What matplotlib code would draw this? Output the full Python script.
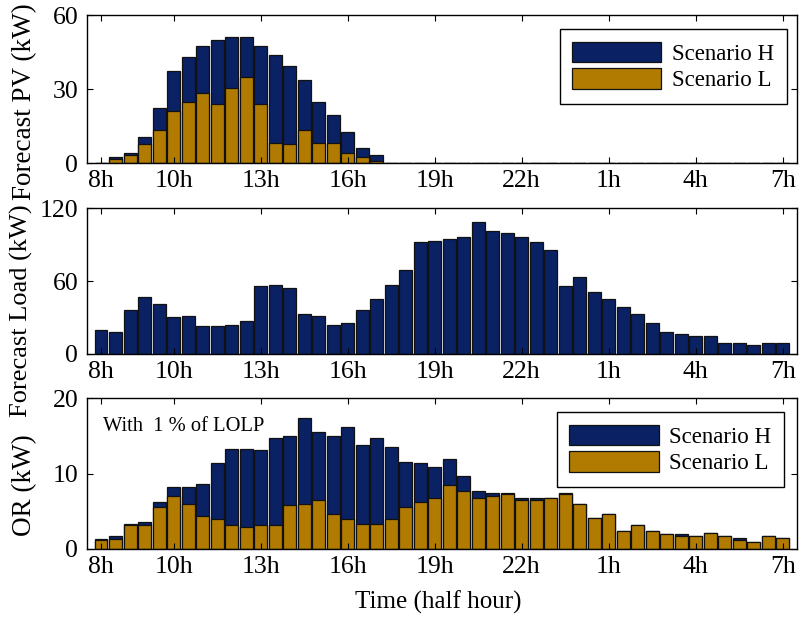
import numpy as np
import matplotlib
matplotlib.use('Agg')
import matplotlib.pyplot as plt

plt.rcParams['font.family'] = ['Liberation Serif', 'DejaVu Serif']
plt.rcParams['font.size'] = 18

# half-hour slots 1..48
slots = np.arange(1, 49)
tick_pos = [1, 6, 12, 18, 24, 30, 36, 42, 48]
tick_labels = ['8h', '10h', '13h', '16h', '19h', '22h', '1h', '4h', '7h']

# forecast PV (kW), scenario H and L
pv_h = [0, 2.6, 4.0, 10.7, 22.4, 37.3, 43.0, 47.5, 49.8, 51.2, 51.2, 47.5, 43.8, 39.2,
        33.6, 24.7, 19.4, 12.7, 6.2, 3.4] + [0] * 28
pv_l = [0, 1.6, 3.2, 7.7, 13.5, 20.9, 24.7, 28.2, 23.9, 30.5, 34.8, 23.9, 8.2, 7.7,
        13.5, 8.2, 8.2, 3.9, 2.4, 0.9] + [0] * 28

# forecast load (kW)
load = [19.5, 18.1, 36.2, 46.7, 40.9, 30.2, 31.6, 22.8, 22.8, 24.2, 27.2, 55.7, 57.1, 54.1,
        33.2, 31.6, 24.2, 25.5, 36.2, 45.3, 57.1, 69.2, 91.7, 93.1, 94.5, 96.1, 108.2, 100.8,
        99.4, 96.1, 91.7, 85.4, 55.7, 63.2, 51.1, 45.3, 39.0, 33.2, 25.8, 18.1, 16.7, 15.1,
        15.1, 9.1, 9.1, 7.4, 9.1, 9.1]

# operating reserve (kW), scenario H and L
or_h = [1.37, 1.73, 3.36, 3.63, 6.28, 8.19, 8.19, 8.67, 11.37, 13.27, 13.27, 13.05, 14.73,
        14.96, 17.35, 15.49, 14.96, 16.15, 13.76, 14.73, 13.54, 11.59, 11.37, 10.88, 11.86,
        9.65, 7.74, 7.48, 7.48, 6.77, 6.77, 6.77, 7.48, 6.02, 4.12, 4.60, 2.43, 3.14, 2.43,
        1.95, 1.95, 1.73, 2.17, 1.73, 1.42, 0.97, 1.73, 1.42]
or_l = [1.15, 1.37, 3.14, 3.14, 5.53, 6.99, 6.02, 4.34, 4.03, 3.14, 2.88, 3.14, 3.14,
        5.80, 6.02, 6.50, 4.60, 4.03, 3.36, 3.36, 4.03, 5.53, 6.28, 6.77, 8.45,
        7.74, 6.77, 6.99, 7.26, 6.50, 6.50, 6.77, 7.26, 6.02, 4.12, 4.60, 2.43, 3.14, 2.43,
        1.95, 1.73, 1.73, 2.17, 1.73, 1.15, 0.97, 1.73, 1.42]

blue = '#0a2264'
gold = '#b07b00'
w = 0.88

fig = plt.figure(figsize=(8.02, 6.21), dpi=100)
ax1 = fig.add_axes([0.108, 0.7375, 0.886, 0.2383])
ax2 = fig.add_axes([0.108, 0.430, 0.886, 0.235])
ax3 = fig.add_axes([0.108, 0.116, 0.886, 0.243])

ax1.bar(slots, pv_h, w, color=blue, edgecolor='#111111', linewidth=0.9, label='Scenario H')
ax1.bar(slots, pv_l, w, color=gold, edgecolor='#111111', linewidth=0.9, label='Scenario L')
ax1.set_ylim(0, 60)
ax1.set_yticks([0, 30, 60])
ax1.set_ylabel('Forecast PV (kW)', fontsize=19.5)
ax1.yaxis.set_label_coords(-0.0696, 0.412)

ax2.bar(slots, load, w, color=blue, edgecolor='#111111', linewidth=0.9)
ax2.set_ylim(0, 120)
ax2.set_yticks([0, 60, 120])
ax2.set_ylabel('Forecast Load (kW)', fontsize=19)
ax2.yaxis.set_label_coords(-0.0752, 0.295)

ax3.bar(slots, or_h, w, color=blue, edgecolor='#111111', linewidth=0.9, label='Scenario H')
ax3.bar(slots, or_l, w, color=gold, edgecolor='#111111', linewidth=0.9, label='Scenario L')
ax3.set_ylim(0, 20)
ax3.set_yticks([0, 10, 20])
ax3.set_ylabel('OR (kW)', fontsize=19.5)
ax3.yaxis.set_label_coords(-0.0696, 0.424)
ax3.set_xlabel('Time (half hour)', fontsize=18, va='top')
ax3.xaxis.set_label_coords(0.495, -0.275)
ax3.text(0.023, 0.81, 'With  1 % of LOLP', transform=ax3.transAxes, fontsize=14.8, va='center')

for ax in (ax1, ax2, ax3):
    ax.set_xlim(0, 49)
    ax.set_xticks(tick_pos)
    ax.set_xticklabels(tick_labels)
    ax.tick_params(direction='in', top=True, right=True, length=4, labelsize=18.5)
    ax.tick_params(axis='y', pad=6)
    ax.tick_params(axis='x', pad=5)
    for s in ax.spines.values():
        s.set_linewidth(1.0)

leg_kw = dict(loc='upper right', fontsize=16.5, fancybox=False, edgecolor='k',
              framealpha=1, handlelength=3.9, handleheight=1.0, borderpad=0.55,
              labelspacing=0.15, handletextpad=0.45, borderaxespad=0)
l1 = ax1.legend(bbox_to_anchor=(0.985, 0.905), **leg_kw)
l3 = ax3.legend(bbox_to_anchor=(0.981, 0.907), **leg_kw)
for l in (l1, l3):
    l.get_frame().set_linewidth(1.0)

fig.savefig('out.png', dpi=100)
